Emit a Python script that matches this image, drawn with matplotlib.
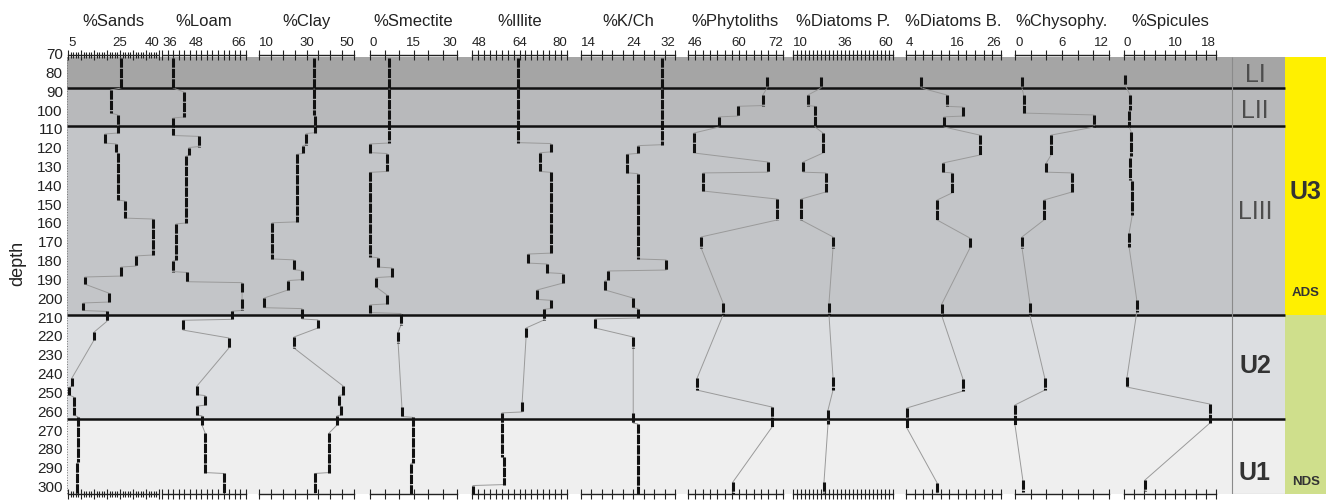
import numpy as np
import matplotlib.pyplot as plt

plt.rcParams['font.family'] = ['Liberation Sans', 'DejaVu Sans']

# every sample: (top depth, bottom depth, value)
sands = [(72.3, 88.3, 25.4), (89.3, 101.6, 21.5), (102.6, 112.2, 24.2), (112.7, 117.5, 19.2),
         (118.0, 122.3, 23.5), (122.8, 147.8, 24.2), (148.3, 157.4, 26.9), (157.9, 177.0, 37.7),
         (177.5, 182.9, 31.2), (183.4, 188.2, 25.4), (188.7, 192.5, 11.5), (197.3, 202.0, 20.8),
         (202.5, 206.5, 10.8), (207.0, 212.2, 20.0), (218.0, 222.2, 15.0), (242.4, 246.8, 6.5),
         (247.3, 251.4, 5.4), (252.5, 262.0, 7.3), (263.0, 287.0, 8.8), (287.5, 304.0, 8.5)]
loam = [(72.3, 88.3, 39.9), (90.4, 103.7, 43.9), (104.2, 113.5, 39.9), (114.0, 119.4, 49.2),
        (119.9, 123.9, 45.6), (124.4, 160.0, 44.6), (160.5, 179.7, 41.0), (180.2, 185.8, 39.9),
        (186.3, 191.2, 44.9), (191.7, 196.7, 64.6), (200.4, 206.4, 64.6), (206.9, 211.2, 61.0),
        (211.7, 216.9, 43.5), (221.1, 226.4, 59.9), (246.6, 251.2, 48.5), (251.7, 256.8, 51.4),
        (257.3, 262.0, 48.5), (262.5, 267.4, 50.3), (271.6, 292.6, 51.4), (293.1, 304.0, 58.1)]
clay = [(72.3, 102.4, 33.2), (102.9, 112.0, 33.6), (112.5, 118.4, 29.8), (118.9, 123.0, 28.5),
        (123.5, 159.4, 26.0), (159.9, 179.1, 15.5), (179.6, 184.8, 24.7), (185.3, 190.1, 28.1),
        (190.6, 195.6, 22.2), (199.9, 205.0, 12.1), (205.5, 211.0, 28.1), (211.5, 215.8, 34.8),
        (220.6, 226.4, 24.7), (246.6, 251.2, 45.4), (251.7, 257.0, 43.7), (257.5, 262.0, 44.5),
        (262.5, 267.4, 42.8), (271.6, 292.6, 39.5), (293.1, 304.0, 33.6)]
smectite = [(72.3, 117.5, 6.6), (118.0, 122.6, 0.0), (123.1, 132.6, 5.9), (133.1, 178.0, 0.0),
            (178.5, 183.4, 2.8), (183.9, 188.5, 7.6), (189.0, 194.0, 2.1), (198.3, 203.0, 5.9),
            (203.5, 207.6, 0.0), (208.1, 214.2, 10.7), (217.9, 223.8, 9.7), (257.8, 262.8, 11.0),
            (263.3, 287.3, 14.8), (287.8, 304.0, 14.1)]
illite = [(72.3, 117.3, 63.5), (117.8, 122.2, 74.6), (122.7, 132.6, 70.9), (133.1, 176.0, 74.6),
          (176.5, 181.3, 66.9), (181.8, 186.4, 73.3), (186.9, 191.9, 78.7), (195.6, 200.6, 69.9),
          (201.1, 205.4, 74.6), (205.9, 211.5, 72.3), (215.8, 221.1, 66.2), (255.1, 260.4, 64.9),
          (260.9, 284.1, 58.1), (284.6, 299.0, 58.8), (299.5, 304.0, 48.3)]
k_ch = [(72.3, 118.4, 29.5), (118.9, 123.0, 24.9), (123.5, 133.3, 22.8), (133.8, 179.1, 24.9),
        (179.6, 185.0, 30.3), (185.5, 190.1, 19.2), (190.6, 195.6, 18.6), (199.9, 205.0, 24.0),
        (205.5, 210.5, 24.9), (211.0, 215.8, 16.7), (220.6, 226.4, 24.0), (261.0, 266.3, 24.0),
        (266.8, 304.0, 24.9)]
phytoliths = [(82.4, 88.3, 67.6), (92.0, 97.6, 66.5), (98.0, 103.2, 59.7), (103.6, 109.0, 54.5),
              (112.2, 122.8, 47.6), (127.6, 133.0, 67.9), (133.4, 143.0, 50.1), (147.3, 158.4, 70.4),
              (167.4, 173.3, 49.6), (202.5, 208.9, 55.6), (242.4, 248.8, 48.5), (257.8, 268.4, 69.0),
              (297.6, 304.0, 58.3)]
diatoms_p = [(82.4, 88.3, 24.0), (92.0, 97.6, 17.5), (98.0, 109.0, 21.0), (112.2, 122.8, 25.0),
             (127.6, 133.0, 15.0), (133.4, 143.5, 26.5), (147.3, 158.4, 14.0), (167.4, 173.3, 30.0),
             (202.5, 208.9, 28.0), (241.9, 248.8, 30.0), (259.4, 266.9, 27.5), (297.6, 303.5, 25.5)]
diatoms_b = [(82.4, 88.3, 7.5), (92.0, 98.0, 13.5), (98.4, 103.2, 17.2), (103.6, 109.0, 12.8),
             (113.3, 123.9, 21.1), (128.1, 133.0, 12.6), (133.4, 144.0, 14.7), (147.8, 158.4, 11.2),
             (168.0, 173.3, 18.8), (203.0, 209.4, 12.3), (242.9, 249.3, 17.2), (258.3, 268.9, 4.2),
             (298.1, 303.5, 11.2)]
chrysophy = [(82.4, 88.3, 0.9), (92.0, 101.6, 1.1), (102.6, 109.0, 10.1), (113.3, 123.9, 4.6),
             (128.1, 133.0, 4.0), (133.4, 143.5, 7.3), (147.8, 158.4, 3.7), (167.4, 173.3, 0.9),
             (202.5, 208.9, 1.9), (242.4, 248.8, 3.8), (256.7, 267.4, 0.0), (296.6, 303.0, 1.0)]
spicules = [(81.4, 86.7, 0.2), (92.0, 100.0, 1.2), (100.5, 109.0, 1.0), (111.5, 124.5, 1.4),
            (125.5, 137.0, 1.2), (137.5, 156.0, 1.6), (165.3, 172.8, 1.0), (200.9, 207.3, 2.5),
            (241.8, 247.2, 0.6), (256.2, 266.3, 16.8), (296.6, 302.5, 4.1)]

titles = ['%Sands', '%Loam', '%Clay', '%Smectite', '%Illite', '%K/Ch', '%Phytoliths',
          '%Diatoms P.', '%Diatoms B.', '%Chysophy.', '%Spicules']
series = [sands, loam, clay, smectite, illite, k_ch, phytoliths, diatoms_p, diatoms_b,
          chrysophy, spicules]
# axis min, labelled middle value, axis max, tick step
scales = [(5, 25, 40, 5), (36, 48, 66, 2), (10, 30, 50, 5), (0, 15, 30, 5), (48, 64, 80, 2),
          (14, 24, 32, 2), (46, 60, 72, 2), (10, 36, 60, 2), (4, 16, 26, 2), (0, 6, 12, 2),
          (0, 10, 18, 2)]

depth_ticks = list(range(70, 301, 10))
unit_edges = [71.8, 88.3, 108.5, 209.0, 264.0, 304.0]
unit_colors = ['#a5a5a5', '#b8b9bb', '#c3c5c8', '#dcdee1', '#efefef']
unit_names = ['LI', 'LII', 'LIII', 'U2', 'U1']

# ---- layout (pixels of a 1331 x 503 figure)
W, H = 1331, 503
Y70, PXCM = 53.6, 1.882


def depth_at(py):
    return 70 + (py - Y70) / PXCM


panel_px = [(68, 159), (162, 246), (259, 354), (370, 457), (472, 567), (581, 675),
            (688, 783), (793, 893), (906, 1001), (1015, 1109), (1124, 1216)]
X0, X_LITH, X_UNIT, X1 = 67, 1232, 1285, 1326
Y_BOT = 494

fig = plt.figure(figsize=(W / 100, H / 100), dpi=100)

bg = fig.add_axes([X0 / W, 1 - Y_BOT / H, (X1 - X0) / W, (Y_BOT - Y70) / H])
bg.set_xlim(X0, X1)
bg.set_ylim(304, 70)
for s in bg.spines.values():
    s.set_visible(False)
bg.set_xticks([])
bg.set_yticks(depth_ticks)
bg.tick_params(axis='y', length=0, pad=3, labelsize=11, colors='#222222')

for i, c in enumerate(unit_colors):
    bg.fill_between([X0, X_UNIT], unit_edges[i], unit_edges[i + 1], color=c, lw=0)
bg.fill_between([X_UNIT, X1], unit_edges[0], unit_edges[3], color='#fff000', lw=0)
bg.fill_between([X_UNIT, X1], unit_edges[3], unit_edges[5], color='#cfdf8c', lw=0)
bg.hlines(unit_edges[1:5], X0, X_UNIT, color='#111111', lw=1.8)
bg.vlines(X_LITH, unit_edges[0], 304, color='#8a8a8a', lw=0.8)
bg.hlines(303.8, X_LITH, X_UNIT, color='#8a8a8a', lw=0.8)
bg.vlines(X0, unit_edges[0], 304, color='#777777', lw=0.7, linestyles=':')

label_depths = [depth_at(75), depth_at(111), depth_at(212), depth_at(366), depth_at(473)]
for name, d in zip(unit_names, label_depths):
    bold = name.startswith('U')
    bg.text(1255, d, name, ha='center', va='center', fontsize=18,
            color='#333333' if bold else '#4d4d4d', fontweight='bold' if bold else 'normal')
bg.text(1305, depth_at(192), 'U3', ha='center', va='center', fontsize=18,
        color='#333333', fontweight='bold')
bg.text(1306, depth_at(293), 'ADS', ha='center', va='center', fontsize=9.5,
        color='#333333', fontweight='bold')
bg.text(1306, depth_at(482), 'NDS', ha='center', va='center', fontsize=9.5,
        color='#333333', fontweight='bold')

fig.text(18 / W, 1 - 263 / H, 'depth', rotation=90, ha='center', va='center',
         fontsize=13, color='#222222')

Y_AX = 55
for title, data, (vmin, vmid, vmax, step), (xa, xb) in zip(titles, series, scales, panel_px):
    ax = fig.add_axes([xa / W, 1 - Y_BOT / H, (xb - xa) / W, (Y_BOT - Y_AX) / H])
    ax.patch.set_visible(False)
    ax.set_xlim(vmin, vmax)
    ax.set_ylim(304, depth_at(Y_AX))
    for side in ('left', 'right'):
        ax.spines[side].set_visible(False)
    for side in ('top', 'bottom'):
        ax.spines[side].set_linewidth(1.0)
        ax.spines[side].set_color('#222222')
    ax.set_yticks([])

    ticks = np.arange(vmin, vmax + step / 2, step)
    ax.set_xticks(ticks)
    ax.set_xticklabels([f'{t:g}' if t in (vmin, vmid, vmax) else '' for t in ticks])
    if step == 5 and vmin == 5:
        ax.set_xticks(np.arange(vmin, vmax + 0.5, 1), minor=True)
    ax.tick_params(axis='x', which='both', direction='inout', top=True, bottom=True,
                   labeltop=True, labelbottom=False, width=0.8, colors='#222222',
                   labelsize=9.5, pad=1)
    ax.tick_params(axis='x', which='major', length=7)
    ax.tick_params(axis='x', which='minor', length=4)
    labs = ax.get_xticklabels()
    labs[0].set_ha('left')
    labs[-1].set_ha('right')

    fig.text((xa + xb) / 2 / W, 1 - 26 / H, title, ha='center', va='baseline',
             fontsize=12, color='#222222')

    xs, ys = [], []
    for top, bot, v in data:
        xs += [v, v]
        ys += [top, bot]
    ax.plot(xs, ys, color='#9a9a9a', lw=0.7, clip_on=False)
    for top, bot, v in data:
        ax.plot([v, v], [top, bot], color='#111111', lw=2.2, dashes=(3.0, 0.4),
                solid_capstyle='butt', clip_on=False)

fig.savefig('out.png', dpi=100, facecolor='white')
